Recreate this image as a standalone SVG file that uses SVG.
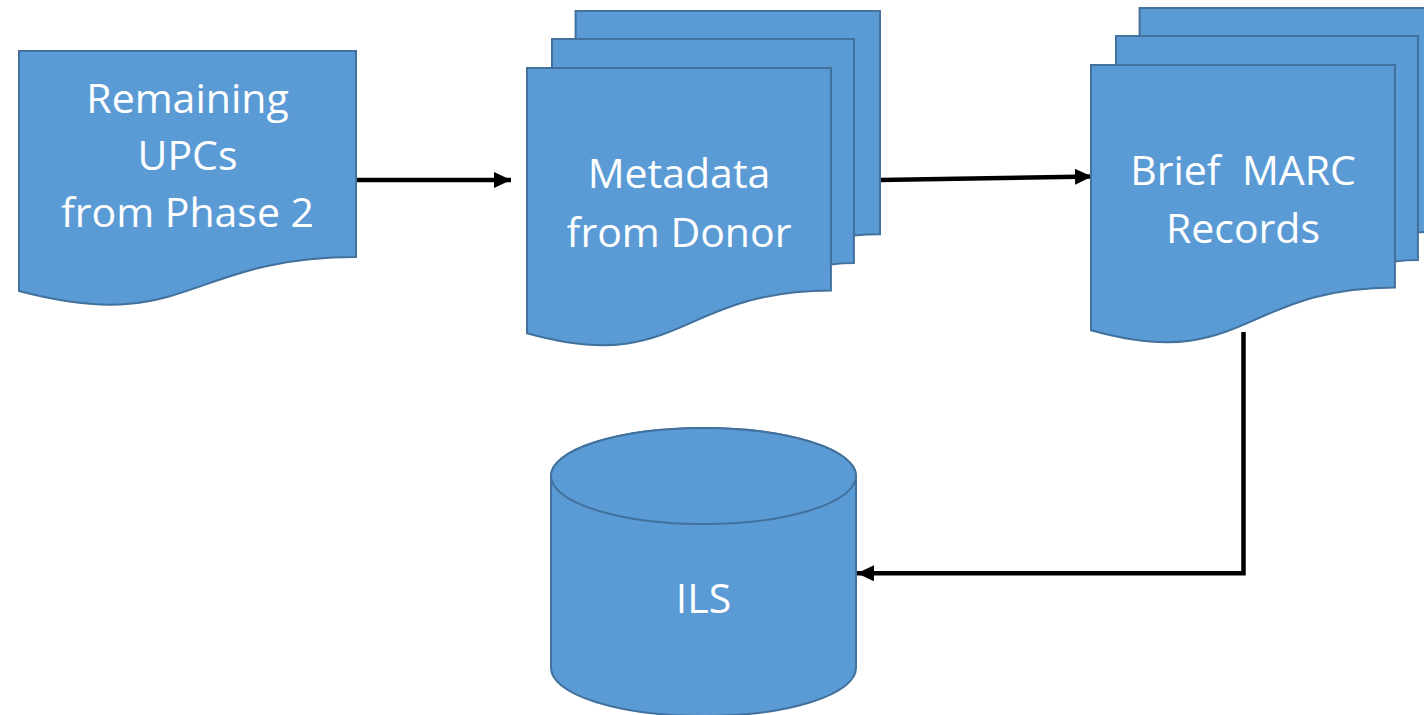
<svg xmlns="http://www.w3.org/2000/svg" width="1424" height="715" viewBox="0 0 1424 715">
<style>
.shape{fill:#5B9BD5;stroke:#41719C;stroke-width:2;stroke-linejoin:miter}
.lbl{font-family:"Open Sans","Noto Sans","Liberation Sans",sans-serif;font-size:41px;fill:#FFFFFF;text-anchor:middle}
.conn{fill:none;stroke:#000000;stroke-width:4.5}
</style>
<defs>
<marker id="arrow" markerUnits="userSpaceOnUse" markerWidth="17" markerHeight="16" refX="17" refY="8" orient="auto">
<path d="M0,0 L17,8 L0,16 Z" fill="#000000"/>
</marker>
<g id="multidoc">
<path class="shape" d="M575.6,39.1 V11 H880 V234.2 C866.9,234.2 853.9,235.4 853.9,235.4 V39.1 Z"/>
<path class="shape" d="M552,68 V39.1 H853.9 V263.1 C842.4,263.1 830.9,264.6 830.9,264.6 V68 Z"/>
<path class="shape" d="M527,333.3 C679,376.1 679,290.5 830.9,290.5 V68 H527 Z"/>
</g>
</defs>
<g id="connectors">
<line class="conn" x1="356" y1="180" x2="511" y2="180" marker-end="url(#arrow)"/>
<line class="conn" x1="880" y1="180" x2="1092" y2="176.5" marker-end="url(#arrow)"/>
<polyline class="conn" points="1243.5,332 1243.5,573.3 857,573.3" marker-end="url(#arrow)"/>
</g>
<g id="node-remaining-upcs">
<path class="shape" d="M19,51 H356 V257 C187.5,257 187.5,335.6 19,291 Z"/>
<text class="lbl" x="187.5" y="113">Remaining</text>
<text class="lbl" x="187.5" y="170">UPCs</text>
<text class="lbl" x="187.5" y="227">from Phase 2</text>
</g>
<g id="node-metadata">
<use href="#multidoc"/>
<text class="lbl" x="679" y="188">Metadata</text>
<text class="lbl" x="679" y="247">from Donor</text>
</g>
<g id="node-brief-marc">
<use href="#multidoc" transform="translate(564,-3)"/>
<text class="lbl" x="1243" y="185" xml:space="preserve">Brief  MARC</text>
<text class="lbl" x="1243" y="243">Records</text>
</g>
<g id="node-ils">
<path class="shape" d="M551,476 A152.5,48 0 0 1 856,476 V668 A152.5,48 0 0 1 551,668 Z"/>
<ellipse class="shape" cx="703.5" cy="476" rx="152.5" ry="48"/>
<text class="lbl" x="703.5" y="613">ILS</text>
</g>
</svg>
